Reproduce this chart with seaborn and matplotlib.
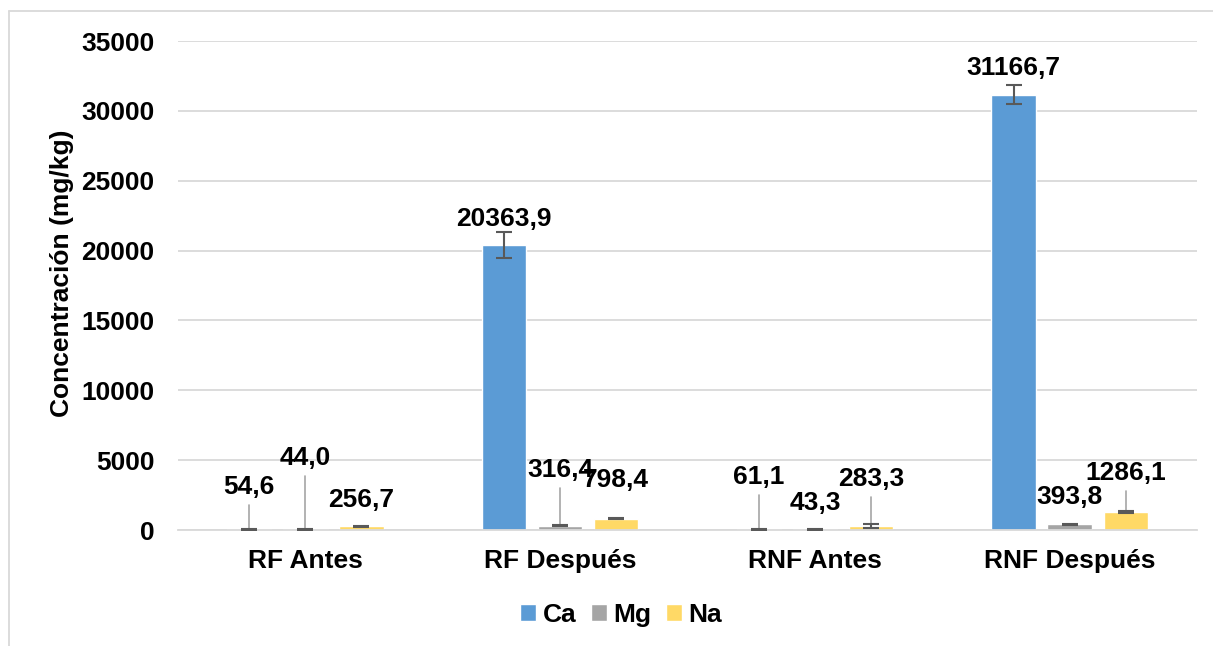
import pandas as pd
import matplotlib.pyplot as plt
import seaborn as sns
from matplotlib.lines import Line2D
from matplotlib.patches import Patch

# values
muestras = ["RF Antes", "RF Después", "RNF Antes", "RNF Después"]
elementos = ["Ca", "Mg", "Na"]
ca = [54.6, 20363.9, 61.1, 31166.7]
mg = [44.0, 316.4, 43.3, 393.8]
na = [256.7, 798.4, 283.3, 1286.1]
ca_err = [30, 930, 40, 670]
mg_err = [20, 40, 15, 30]
na_err = [30, 30, 150, 60]

# where the data labels sit (data units) and which ones get a leader line
label_y = {"Ca": [3080, 22260, 3790, 33065],
           "Mg": [5150, 4290, 1930, 2360],
           "Na": [2150, 3580, 3650, 4080]}
leader = {"Ca": [True, False, True, False],
          "Mg": [True, True, False, False],
          "Na": [False, False, True, True]}

colores = {"Ca": "#5B9BD5", "Mg": "#A5A5A5", "Na": "#FFD966"}

df = pd.DataFrame({
    "muestra": muestras * 3,
    "elemento": ["Ca"] * 4 + ["Mg"] * 4 + ["Na"] * 4,
    "valor": ca + mg + na,
})
errores = {"Ca": ca_err, "Mg": mg_err, "Na": na_err}
valores = {"Ca": ca, "Mg": mg, "Na": na}

sns.set_style("white")
plt.rcParams["font.family"] = ["Liberation Sans", "DejaVu Sans"]
plt.rcParams["font.weight"] = "bold"
plt.rcParams["text.color"] = "black"
plt.rcParams["xtick.color"] = "black"
plt.rcParams["ytick.color"] = "black"
plt.rcParams["axes.labelcolor"] = "black"

fs = 19

fig = plt.figure(figsize=(12.13, 6.46), dpi=100)
ax = fig.add_axes([178 / 1213, 1 - 530 / 646, 1019 / 1213, 489 / 646])

sns.barplot(data=df, x="muestra", y="valor", hue="elemento", palette=colores,
            width=0.66, gap=0.21, errorbar=None, saturation=1, ax=ax)

for i, el in enumerate(elementos):
    bars = ax.containers[i]
    for j, bar in enumerate(bars):
        xc = bar.get_x() + bar.get_width() / 2
        v = valores[el][j]
        ax.errorbar(xc, v, yerr=errores[el][j], color="#595959", capsize=6,
                    capthick=1.5, elinewidth=1.5, zorder=4)
        ax.text(xc, label_y[el][j], f"{v:.1f}".replace(".", ","),
                ha="center", va="center", fontsize=fs, fontweight="bold",
                color="black", zorder=5)
        if leader[el][j]:
            ax.plot([xc, xc], [label_y[el][j] - 1300, v], color="#A6A6A6",
                    lw=1.2, zorder=3)

ax.set_xlim(-0.5, 3.5)
ax.set_ylim(0, 35000)
ax.set_yticks(range(0, 35001, 5000))
ax.yaxis.grid(True, color="#D9D9D9", lw=1.3)
ax.set_axisbelow(True)
for s in ["top", "right", "left"]:
    ax.spines[s].set_visible(False)
ax.spines["bottom"].set_color("#D9D9D9")
ax.spines["bottom"].set_linewidth(1.3)
ax.tick_params(axis="y", length=0, pad=17, labelsize=fs, labelcolor="black")
ax.tick_params(axis="x", length=0, pad=14, labelsize=fs, labelcolor="black")
for t in ax.get_xticklabels() + ax.get_yticklabels():
    t.set_fontweight("bold")
ax.set_xlabel("")
ax.set_ylabel("Concentración (mg/kg)", fontsize=fs, fontweight="bold",
              color="black")
ax.yaxis.set_label_coords(-0.102, 0.525)

ax.get_legend().remove()
handles = [Patch(facecolor=colores[e], label=e) for e in elementos]
fig.legend(handles=handles, loc="center", ncol=3, frameon=False,
           bbox_to_anchor=(621 / 1213, 1 - 615 / 646),
           handlelength=0.6, handleheight=0.6, handletextpad=0.25,
           columnspacing=0.55, prop={"weight": "bold", "size": fs},
           labelcolor="black")

# chart area border (only top and left show in the reference)
fig.add_artist(Line2D([9 / 1213, 1], [1 - 11 / 646, 1 - 11 / 646],
                      transform=fig.transFigure, color="#D9D9D9", lw=1.3))
fig.add_artist(Line2D([9 / 1213, 9 / 1213], [0, 1 - 11 / 646],
                      transform=fig.transFigure, color="#D9D9D9", lw=1.3))

fig.savefig("out.png", dpi=100)
